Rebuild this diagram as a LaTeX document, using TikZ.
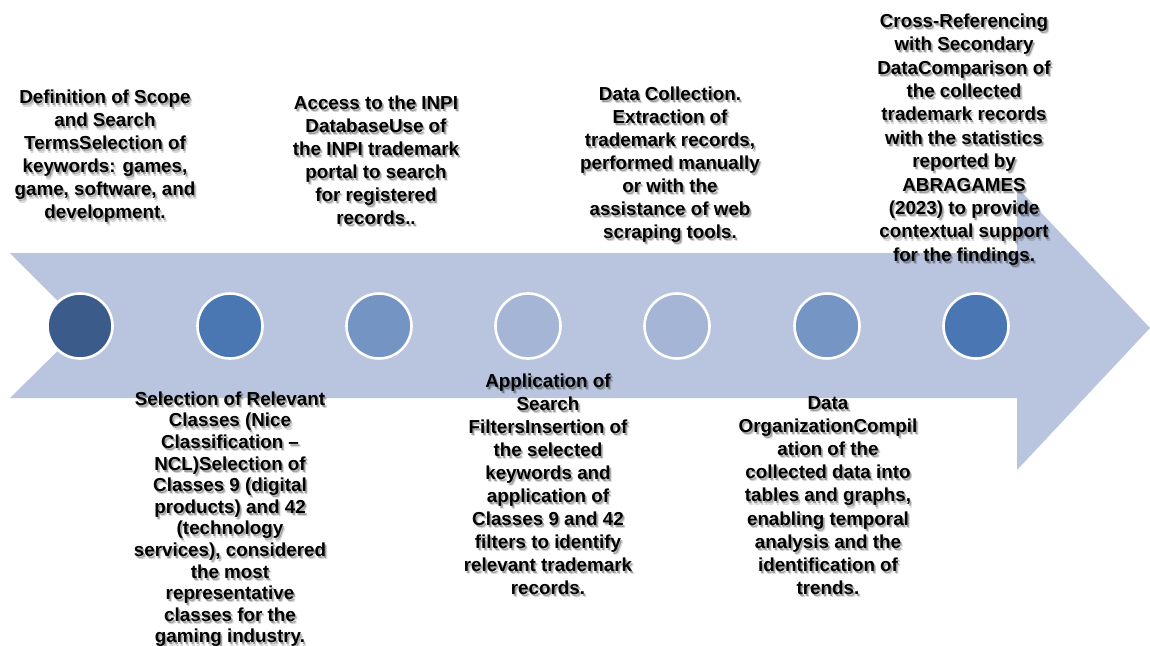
\documentclass[tikz,border=0pt]{standalone}
\usepackage{fontspec}
\setmainfont{Liberation Sans}
\begin{document}
\begin{tikzpicture}[x=1pt,y=-1pt,
  band/.style={fill=bandc,draw=none},
  dot/.style={circle,draw=white,line width=2.6pt,minimum size=65pt,inner sep=0pt},
  lbl/.style={align=center,inner sep=0pt,anchor=north,font=\fontsize{18.8}{23}\selectfont\bfseries},
  lbls/.style={text=black,opacity=0.28},
]
\definecolor{bandc}{HTML}{B9C5DF}
\definecolor{c1}{HTML}{3B5B8B}
\definecolor{c2}{HTML}{4A76B2}
\definecolor{c3}{HTML}{7495C4}
\definecolor{c4}{HTML}{A5B5D5}
\definecolor{c6}{HTML}{7596C4}
\definecolor{c7}{HTML}{4A77B3}
\useasboundingbox (0,0) rectangle (1150,645);
\fill[white] (0,0) rectangle (1150,645);
% arrow
\path[band] (10,253) -- (1017,253) -- (1017,187) -- (1150,328) -- (1017,470)
  -- (1017,398) -- (10,398) -- (83,326) -- cycle;
% circles
\node[dot,fill=c1] (d1) at (80,326) {};
\node[dot,fill=c2] (d2) at (230,326) {};
\node[dot,fill=c3] (d3) at (379,326) {};
\node[dot,fill=c4] (d4) at (528,326) {};
\node[dot,fill=c4] (d5) at (677,326) {};
\node[dot,fill=c6] (d6) at (827,326) {};
\node[dot,fill=c7] (d7) at (976,326) {};
% labels (shadow + text)
\newcommand\steplabel[5]{%
  \node[lbl,#4,lbls] (#1s) at (#2+1.5,#3+2) {#5};
  \node[lbl,#4,lbls,opacity=0.15] (#1t) at (#2+2.4,#3+3.2) {#5};
  \node[lbl,#4] (#1) at (#2,#3) {#5};}
\steplabel{t1}{105}{90}{}{Definition of Scope\\and Search\\TermsSelection of\\keywords: games,\\game, software, and\\development.}
\steplabel{t2}{376}{95.5}{}{Access to the INPI\\DatabaseUse of\\the INPI trademark\\portal to search\\for registered\\records..}
\steplabel{t3}{670}{86.5}{}{Data Collection.\\Extraction of\\trademark records,\\performed manually\\or with the\\assistance of web\\scraping tools.}
\steplabel{t4}{964}{13.5}{font=\fontsize{18.8}{23.4}\selectfont\bfseries}{Cross-Referencing\\with Secondary\\DataComparison of\\the collected\\trademark records\\with the statistics\\reported by\\ABRAGAMES\\(2023) to provide\\contextual support\\for the findings.}
\steplabel{t5}{230}{391.5}{font=\fontsize{18.8}{21.6}\selectfont\bfseries}{Selection of Relevant\\Classes (Nice\\Classification –\\NCL)Selection of\\Classes 9 (digital\\products) and 42\\(technology\\services), considered\\the most\\representative\\classes for the\\gaming industry.}
\steplabel{t6}{548}{373.5}{}{Application of\\Search\\FiltersInsertion of\\the selected\\keywords and\\application of\\Classes 9 and 42\\filters to identify\\relevant trademark\\records.}
\steplabel{t7}{828}{396}{font=\fontsize{18.8}{23.2}\selectfont\bfseries}{Data\\OrganizationCompil\\ation of the\\collected data into\\tables and graphs,\\enabling temporal\\analysis and the\\identification of\\trends.}
\end{tikzpicture}
\end{document}
